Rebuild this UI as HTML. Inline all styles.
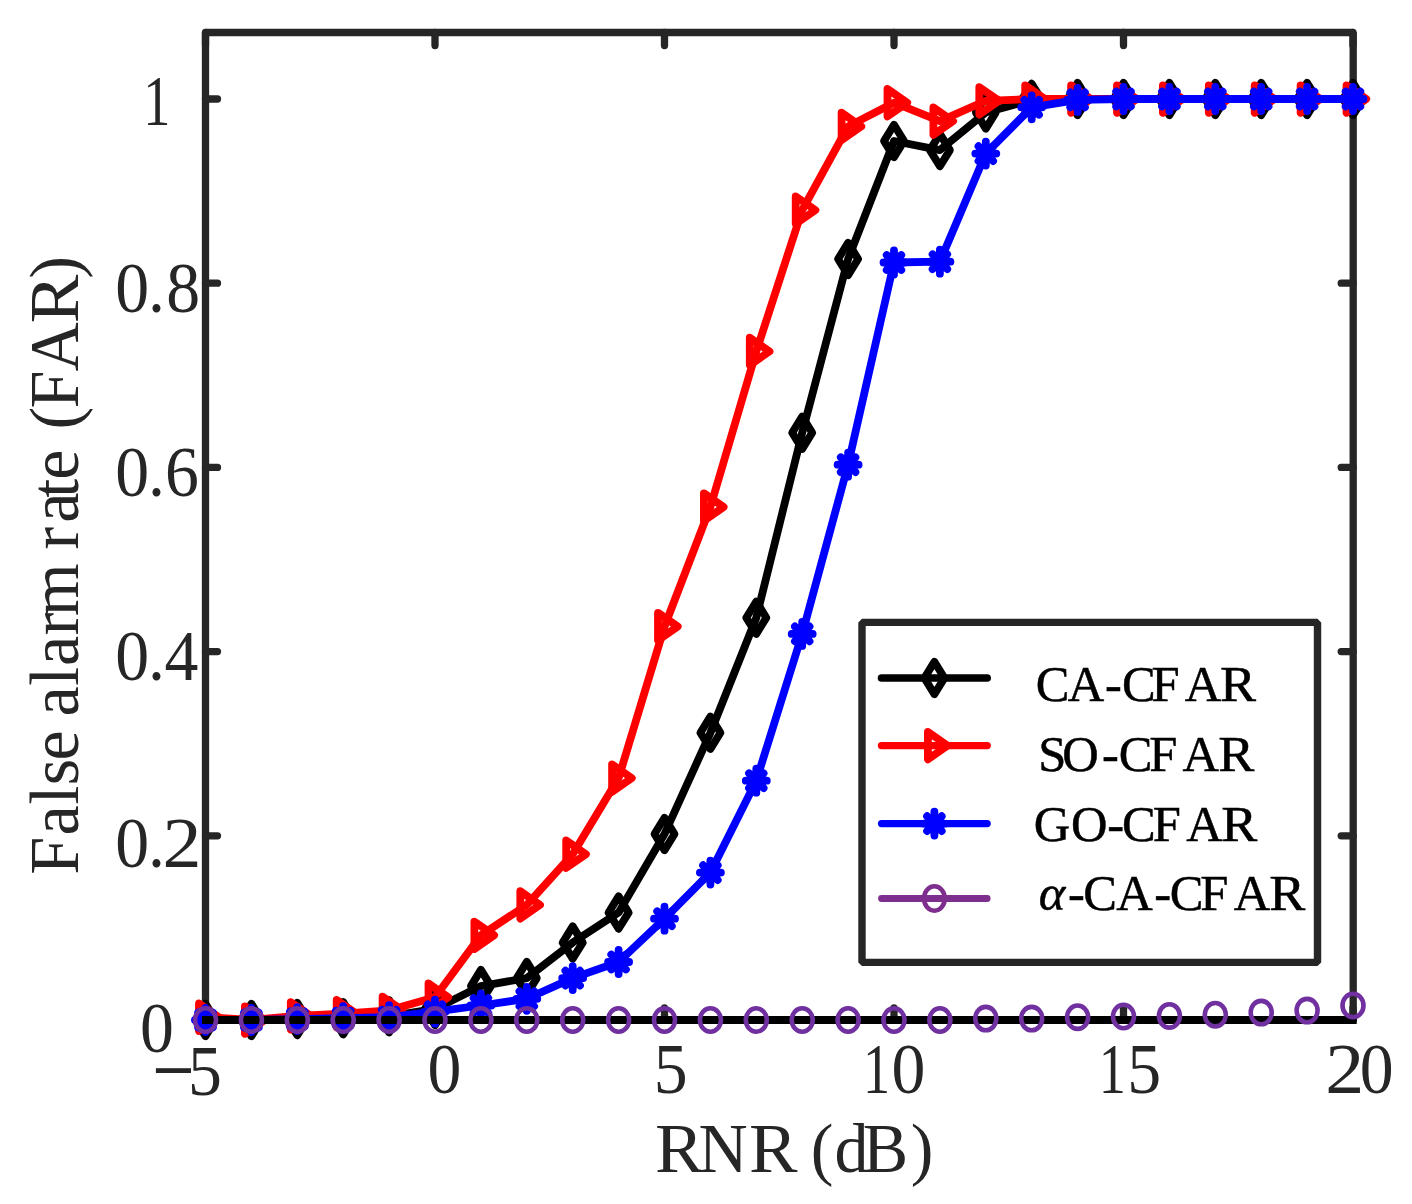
<!DOCTYPE html>
<html><head><meta charset="utf-8"><title>FAR vs RNR</title>
<style>html,body{margin:0;padding:0;background:#fff}svg{display:block}</style></head>
<body>
<svg width="1412" height="1204" viewBox="0 0 1412 1204">
<rect width="1412" height="1204" fill="#fff"/>
<g stroke="#262626" stroke-width="7.3" fill="none" stroke-linecap="round" stroke-linejoin="bevel">
<path d="M205.5 1020.0V32.5H1353.2V1020.0"/>
<path d="M205.5 1020.0h12M1353.2 1020.0h-12"/>
<path d="M205.5 835.8h12M1353.2 835.8h-12"/>
<path d="M205.5 651.6h12M1353.2 651.6h-12"/>
<path d="M205.5 467.4h12M1353.2 467.4h-12"/>
<path d="M205.5 283.2h12M1353.2 283.2h-12"/>
<path d="M205.5 99.0h12M1353.2 99.0h-12"/>
<path d="M205.5 32.5v13M205.5 1020.0v-12"/>
<path d="M435.0 32.5v13M435.0 1020.0v-12"/>
<path d="M664.5 32.5v13M664.5 1020.0v-12"/>
<path d="M894.0 32.5v13M894.0 1020.0v-12"/>
<path d="M1123.5 32.5v13M1123.5 1020.0v-12"/>
<path d="M1353.0 32.5v13M1353.0 1020.0v-12"/>
</g>
<g stroke="#000" fill="none" stroke-linejoin="round" stroke-linecap="round">
<polyline points="205.5,1020.0 251.4,1020.0 297.3,1019.1 343.2,1018.2 389.1,1016.3 435.0,1008.9 480.9,986.1 526.8,978.1 572.7,942.6 618.6,912.6 664.5,834.0 710.4,732.8 756.3,617.7 802.2,432.7 848.1,259.0 894.0,141.0 939.9,150.1 985.8,112.4 1031.7,99.9 1077.6,99.0 1123.5,99.0 1169.4,99.0 1215.3,99.0 1261.2,99.0 1307.1,99.0 1353.0,99.0" stroke-width="7.8"/>
<path d="M205.5 1003.8l10.0 16.2l-10.0 16.2l-10.0 -16.2z" stroke-width="7.8"/>
<path d="M251.4 1003.8l10.0 16.2l-10.0 16.2l-10.0 -16.2z" stroke-width="7.8"/>
<path d="M297.3 1002.9l10.0 16.2l-10.0 16.2l-10.0 -16.2z" stroke-width="7.8"/>
<path d="M343.2 1002.0l10.0 16.2l-10.0 16.2l-10.0 -16.2z" stroke-width="7.8"/>
<path d="M389.1 1000.1l10.0 16.2l-10.0 16.2l-10.0 -16.2z" stroke-width="7.8"/>
<path d="M435.0 992.7l10.0 16.2l-10.0 16.2l-10.0 -16.2z" stroke-width="7.8"/>
<path d="M480.9 969.9l10.0 16.2l-10.0 16.2l-10.0 -16.2z" stroke-width="7.8"/>
<path d="M526.8 961.9l10.0 16.2l-10.0 16.2l-10.0 -16.2z" stroke-width="7.8"/>
<path d="M572.7 926.4l10.0 16.2l-10.0 16.2l-10.0 -16.2z" stroke-width="7.8"/>
<path d="M618.6 896.4l10.0 16.2l-10.0 16.2l-10.0 -16.2z" stroke-width="7.8"/>
<path d="M664.5 817.8l10.0 16.2l-10.0 16.2l-10.0 -16.2z" stroke-width="7.8"/>
<path d="M710.4 716.6l10.0 16.2l-10.0 16.2l-10.0 -16.2z" stroke-width="7.8"/>
<path d="M756.3 601.5l10.0 16.2l-10.0 16.2l-10.0 -16.2z" stroke-width="7.8"/>
<path d="M802.2 416.5l10.0 16.2l-10.0 16.2l-10.0 -16.2z" stroke-width="7.8"/>
<path d="M848.1 242.8l10.0 16.2l-10.0 16.2l-10.0 -16.2z" stroke-width="7.8"/>
<path d="M894.0 124.8l10.0 16.2l-10.0 16.2l-10.0 -16.2z" stroke-width="7.8"/>
<path d="M939.9 133.9l10.0 16.2l-10.0 16.2l-10.0 -16.2z" stroke-width="7.8"/>
<path d="M985.8 96.2l10.0 16.2l-10.0 16.2l-10.0 -16.2z" stroke-width="7.8"/>
<path d="M1031.7 83.7l10.0 16.2l-10.0 16.2l-10.0 -16.2z" stroke-width="7.8"/>
<path d="M1077.6 82.8l10.0 16.2l-10.0 16.2l-10.0 -16.2z" stroke-width="7.8"/>
<path d="M1123.5 82.8l10.0 16.2l-10.0 16.2l-10.0 -16.2z" stroke-width="7.8"/>
<path d="M1169.4 82.8l10.0 16.2l-10.0 16.2l-10.0 -16.2z" stroke-width="7.8"/>
<path d="M1215.3 82.8l10.0 16.2l-10.0 16.2l-10.0 -16.2z" stroke-width="7.8"/>
<path d="M1261.2 82.8l10.0 16.2l-10.0 16.2l-10.0 -16.2z" stroke-width="7.8"/>
<path d="M1307.1 82.8l10.0 16.2l-10.0 16.2l-10.0 -16.2z" stroke-width="7.8"/>
<path d="M1353.0 82.8l10.0 16.2l-10.0 16.2l-10.0 -16.2z" stroke-width="7.8"/>
</g>
<g stroke="#f00" fill="none" stroke-linejoin="round" stroke-linecap="round">
<polyline points="205.5,1017.2 251.4,1020.0 297.3,1015.8 343.2,1013.6 389.1,1010.3 435.0,997.2 480.9,935.3 526.8,904.9 572.7,854.2 618.6,778.1 664.5,626.5 710.4,507.0 756.3,351.4 802.2,210.1 848.1,126.4 894.0,102.7 939.9,121.1 985.8,100.8 1031.7,99.0 1077.6,99.0 1123.5,99.0 1169.4,99.0 1215.3,99.0 1261.2,99.0 1307.1,99.0 1353.0,99.0" stroke-width="7.8"/>
<path d="M199.0 1003.5L218.7 1017.2L199.0 1030.9z" stroke-width="7.8"/>
<path d="M244.9 1006.3L264.6 1020.0L244.9 1033.7z" stroke-width="7.8"/>
<path d="M290.8 1002.1L310.5 1015.8L290.8 1029.5z" stroke-width="7.8"/>
<path d="M336.7 999.9L356.4 1013.6L336.7 1027.3z" stroke-width="7.8"/>
<path d="M382.6 996.6L402.3 1010.3L382.6 1024.0z" stroke-width="7.8"/>
<path d="M428.5 983.5L448.2 997.2L428.5 1010.9z" stroke-width="7.8"/>
<path d="M474.4 921.6L494.1 935.3L474.4 949.0z" stroke-width="7.8"/>
<path d="M520.3 891.2L540.0 904.9L520.3 918.6z" stroke-width="7.8"/>
<path d="M566.2 840.5L585.9 854.2L566.2 867.9z" stroke-width="7.8"/>
<path d="M612.1 764.4L631.8 778.1L612.1 791.8z" stroke-width="7.8"/>
<path d="M658.0 612.8L677.7 626.5L658.0 640.2z" stroke-width="7.8"/>
<path d="M703.9 493.3L723.6 507.0L703.9 520.7z" stroke-width="7.8"/>
<path d="M749.8 337.7L769.5 351.4L749.8 365.1z" stroke-width="7.8"/>
<path d="M795.7 196.4L815.4 210.1L795.7 223.8z" stroke-width="7.8"/>
<path d="M841.6 112.7L861.3 126.4L841.6 140.1z" stroke-width="7.8"/>
<path d="M887.5 89.0L907.2 102.7L887.5 116.4z" stroke-width="7.8"/>
<path d="M933.4 107.4L953.1 121.1L933.4 134.8z" stroke-width="7.8"/>
<path d="M979.3 87.1L999.0 100.8L979.3 114.5z" stroke-width="7.8"/>
<path d="M1025.2 85.3L1044.9 99.0L1025.2 112.7z" stroke-width="7.8"/>
<path d="M1071.1 85.3L1090.8 99.0L1071.1 112.7z" stroke-width="7.8"/>
<path d="M1117.0 85.3L1136.7 99.0L1117.0 112.7z" stroke-width="7.8"/>
<path d="M1162.9 85.3L1182.6 99.0L1162.9 112.7z" stroke-width="7.8"/>
<path d="M1208.8 85.3L1228.5 99.0L1208.8 112.7z" stroke-width="7.8"/>
<path d="M1254.7 85.3L1274.4 99.0L1254.7 112.7z" stroke-width="7.8"/>
<path d="M1300.6 85.3L1320.3 99.0L1300.6 112.7z" stroke-width="7.8"/>
<path d="M1346.5 85.3L1366.2 99.0L1346.5 112.7z" stroke-width="7.8"/>
</g>
<g stroke="#00f" fill="none" stroke-linejoin="round" stroke-linecap="round">
<polyline points="205.5,1020.0 251.4,1020.0 297.3,1019.1 343.2,1018.2 389.1,1017.2 435.0,1011.7 480.9,1005.5 526.8,998.8 572.7,978.1 618.6,962.0 664.5,918.7 710.4,872.6 756.3,780.7 802.2,633.9 848.1,464.7 894.0,262.5 939.9,261.7 985.8,153.6 1031.7,107.3 1077.6,99.9 1123.5,99.0 1169.4,99.0 1215.3,99.0 1261.2,99.0 1307.1,99.0 1353.0,99.0" stroke-width="7.8"/>
<path d="M205.5 1008.0V1032.0M195.0 1020.0H216.0M198.2 1012.6L212.8 1027.4M198.2 1027.4L212.8 1012.6" stroke-width="7.8"/>
<path d="M251.4 1008.0V1032.0M240.9 1020.0H261.9M244.1 1012.6L258.7 1027.4M244.1 1027.4L258.7 1012.6" stroke-width="7.8"/>
<path d="M297.3 1007.1V1031.1M286.8 1019.1H307.8M290.0 1011.7L304.6 1026.5M290.0 1026.5L304.6 1011.7" stroke-width="7.8"/>
<path d="M343.2 1006.2V1030.2M332.7 1018.2H353.7M335.9 1010.8L350.5 1025.6M335.9 1025.6L350.5 1010.8" stroke-width="7.8"/>
<path d="M389.1 1005.2V1029.2M378.6 1017.2H399.6M381.8 1009.8L396.4 1024.6M381.8 1024.6L396.4 1009.8" stroke-width="7.8"/>
<path d="M435.0 999.7V1023.7M424.5 1011.7H445.5M427.7 1004.3L442.3 1019.1M427.7 1019.1L442.3 1004.3" stroke-width="7.8"/>
<path d="M480.9 993.5V1017.5M470.4 1005.5H491.4M473.6 998.1L488.2 1012.9M473.6 1012.9L488.2 998.1" stroke-width="7.8"/>
<path d="M526.8 986.8V1010.8M516.3 998.8H537.3M519.5 991.4L534.1 1006.2M519.5 1006.2L534.1 991.4" stroke-width="7.8"/>
<path d="M572.7 966.1V990.1M562.2 978.1H583.2M565.4 970.7L580.0 985.5M565.4 985.5L580.0 970.7" stroke-width="7.8"/>
<path d="M618.6 950.0V974.0M608.1 962.0H629.1M611.3 954.6L625.9 969.4M611.3 969.4L625.9 954.6" stroke-width="7.8"/>
<path d="M664.5 906.7V930.7M654.0 918.7H675.0M657.2 911.3L671.8 926.1M657.2 926.1L671.8 911.3" stroke-width="7.8"/>
<path d="M710.4 860.6V884.6M699.9 872.6H720.9M703.1 865.2L717.7 880.0M703.1 880.0L717.7 865.2" stroke-width="7.8"/>
<path d="M756.3 768.7V792.7M745.8 780.7H766.8M749.0 773.3L763.6 788.1M749.0 788.1L763.6 773.3" stroke-width="7.8"/>
<path d="M802.2 621.9V645.9M791.7 633.9H812.7M794.9 626.5L809.5 641.3M794.9 641.3L809.5 626.5" stroke-width="7.8"/>
<path d="M848.1 452.7V476.7M837.6 464.7H858.6M840.8 457.3L855.4 472.1M840.8 472.1L855.4 457.3" stroke-width="7.8"/>
<path d="M894.0 250.5V274.5M883.5 262.5H904.5M886.7 255.1L901.3 269.9M886.7 269.9L901.3 255.1" stroke-width="7.8"/>
<path d="M939.9 249.7V273.7M929.4 261.7H950.4M932.6 254.3L947.2 269.1M932.6 269.1L947.2 254.3" stroke-width="7.8"/>
<path d="M985.8 141.6V165.6M975.3 153.6H996.3M978.5 146.2L993.1 161.0M978.5 161.0L993.1 146.2" stroke-width="7.8"/>
<path d="M1031.7 95.3V119.3M1021.2 107.3H1042.2M1024.4 99.9L1039.0 114.7M1024.4 114.7L1039.0 99.9" stroke-width="7.8"/>
<path d="M1077.6 87.9V111.9M1067.1 99.9H1088.1M1070.3 92.5L1084.9 107.3M1070.3 107.3L1084.9 92.5" stroke-width="7.8"/>
<path d="M1123.5 87.0V111.0M1113.0 99.0H1134.0M1116.2 91.6L1130.8 106.4M1116.2 106.4L1130.8 91.6" stroke-width="7.8"/>
<path d="M1169.4 87.0V111.0M1158.9 99.0H1179.9M1162.1 91.6L1176.7 106.4M1162.1 106.4L1176.7 91.6" stroke-width="7.8"/>
<path d="M1215.3 87.0V111.0M1204.8 99.0H1225.8M1208.0 91.6L1222.6 106.4M1208.0 106.4L1222.6 91.6" stroke-width="7.8"/>
<path d="M1261.2 87.0V111.0M1250.7 99.0H1271.7M1253.9 91.6L1268.5 106.4M1253.9 106.4L1268.5 91.6" stroke-width="7.8"/>
<path d="M1307.1 87.0V111.0M1296.6 99.0H1317.6M1299.8 91.6L1314.4 106.4M1299.8 106.4L1314.4 91.6" stroke-width="7.8"/>
<path d="M1353.0 87.0V111.0M1342.5 99.0H1363.5M1345.7 91.6L1360.3 106.4M1345.7 106.4L1360.3 91.6" stroke-width="7.8"/>
</g>
<path d="M202.0 1020.0H1356.7" stroke="#000" stroke-width="7.8" fill="none"/>
<g stroke="#7030A0" fill="none" stroke-width="4.6">
<ellipse cx="205.5" cy="1020.0" rx="10.5" ry="11.7"/>
<ellipse cx="251.4" cy="1020.0" rx="10.5" ry="11.7"/>
<ellipse cx="297.3" cy="1020.0" rx="10.5" ry="11.7"/>
<ellipse cx="343.2" cy="1020.0" rx="10.5" ry="11.7"/>
<ellipse cx="389.1" cy="1020.0" rx="10.5" ry="11.7"/>
<ellipse cx="435.0" cy="1020.0" rx="10.5" ry="11.7"/>
<ellipse cx="480.9" cy="1020.0" rx="10.5" ry="11.7"/>
<ellipse cx="526.8" cy="1020.0" rx="10.5" ry="11.7"/>
<ellipse cx="572.7" cy="1020.0" rx="10.5" ry="11.7"/>
<ellipse cx="618.6" cy="1020.0" rx="10.5" ry="11.7"/>
<ellipse cx="664.5" cy="1020.0" rx="10.5" ry="11.7"/>
<ellipse cx="710.4" cy="1020.0" rx="10.5" ry="11.7"/>
<ellipse cx="756.3" cy="1020.0" rx="10.5" ry="11.7"/>
<ellipse cx="802.2" cy="1020.0" rx="10.5" ry="11.7"/>
<ellipse cx="848.1" cy="1020.0" rx="10.5" ry="11.7"/>
<ellipse cx="894.0" cy="1020.0" rx="10.5" ry="11.7"/>
<ellipse cx="939.9" cy="1020.0" rx="10.5" ry="11.7"/>
<ellipse cx="985.8" cy="1018.6" rx="10.5" ry="11.7"/>
<ellipse cx="1031.7" cy="1018.6" rx="10.5" ry="11.7"/>
<ellipse cx="1077.6" cy="1017.2" rx="10.5" ry="11.7"/>
<ellipse cx="1123.5" cy="1016.5" rx="10.5" ry="11.7"/>
<ellipse cx="1169.4" cy="1015.9" rx="10.5" ry="11.7"/>
<ellipse cx="1215.3" cy="1014.7" rx="10.5" ry="11.7"/>
<ellipse cx="1261.2" cy="1012.6" rx="10.5" ry="11.7"/>
<ellipse cx="1307.1" cy="1010.6" rx="10.5" ry="11.7"/>
<ellipse cx="1353.0" cy="1005.5" rx="10.5" ry="11.7"/>
</g>
<rect x="862" y="622.4" width="455.5" height="340" fill="#fff" stroke="#262626" stroke-width="7.4" stroke-linejoin="bevel"/>
<g fill="none" stroke-linecap="round" stroke-linejoin="round">
<path d="M881.5 678.0H987.2" stroke="#000" stroke-width="7.6"/>
<path d="M934.4 661.8l10.0 16.2l-10.0 16.2l-10.0 -16.2z" stroke="#000" stroke-width="7.8"/>
<path d="M881.5 745.6H987.2" stroke="#f00" stroke-width="7.4"/>
<path d="M927.9 731.9L947.6 745.6L927.9 759.3z" stroke="#f00" stroke-width="7.8"/>
<path d="M881.5 823.6H987.2" stroke="#00f" stroke-width="7.2"/>
<path d="M934.4 811.6V835.6M923.9 823.6H944.9M927.1 816.2L941.7 831.0M927.1 831.0L941.7 816.2" stroke="#00f" stroke-width="7.8"/>
<path d="M881.5 898.5H987.2" stroke="#7E2F8E" stroke-width="6.8"/>
<ellipse cx="934.4" cy="898.5" rx="10.4" ry="12.2" stroke="#7E2F8E" stroke-width="4.6"/>
</g>
<g font-family="Liberation Serif, serif">
<text transform="translate(140.12 1052.30) scale(0.95 1)" font-size="71.4" fill="#262626">0</text>
<text transform="translate(115.22 866.90) scale(0.95 1)" font-size="71.4" fill="#262626">0</text>
<text transform="translate(148.03 866.90) scale(0.95 1)" font-size="71.4" fill="#262626">.</text>
<text transform="translate(162.47 866.90) scale(1.0924999999999998 1)" font-size="71.4" fill="#262626">2</text>
<text transform="translate(115.22 680.00) scale(0.95 1)" font-size="71.4" fill="#262626">0</text>
<text transform="translate(148.03 680.00) scale(0.95 1)" font-size="71.4" fill="#262626">.</text>
<text transform="translate(164.58 680.00) scale(0.95 1)" font-size="71.4" fill="#262626">4</text>
<text transform="translate(115.22 496.40) scale(0.95 1)" font-size="71.4" fill="#262626">0</text>
<text transform="translate(148.03 496.40) scale(0.95 1)" font-size="71.4" fill="#262626">.</text>
<text transform="translate(164.99 496.40) scale(0.95 1)" font-size="71.4" fill="#262626">6</text>
<text transform="translate(115.22 312.10) scale(0.95 1)" font-size="71.4" fill="#262626">0</text>
<text transform="translate(148.03 312.10) scale(0.95 1)" font-size="71.4" fill="#262626">.</text>
<text transform="translate(166.32 312.10) scale(0.95 1)" font-size="71.4" fill="#262626">8</text>
<text transform="translate(143.13 125.0) scale(0.76 1)" font-size="71.4" fill="#262626">1</text>
<rect x="155.9" y="1068.2" width="35.1" height="4.8" fill="#262626"/>
<text transform="translate(188.06 1095.40) scale(0.95 1)" font-size="71.4" fill="#262626">5</text>
<text transform="translate(427.62 1093.00) scale(0.95 1)" font-size="71.4" fill="#262626">0</text>
<text transform="translate(653.76 1093.00) scale(0.95 1)" font-size="71.4" fill="#262626">5</text>
<text transform="translate(863.03 1093.0) scale(0.76 1)" font-size="71.4" fill="#262626">1</text>
<text transform="translate(891.52 1093.00) scale(0.95 1)" font-size="71.4" fill="#262626">0</text>
<text transform="translate(1098.73 1093.0) scale(0.76 1)" font-size="71.4" fill="#262626">1</text>
<text transform="translate(1127.16 1093.00) scale(0.95 1)" font-size="71.4" fill="#262626">5</text>
<text transform="translate(1325.27 1093.00) scale(1.0924999999999998 1)" font-size="71.4" fill="#262626">2</text>
<text transform="translate(1359.82 1093.00) scale(0.95 1)" font-size="71.4" fill="#262626">0</text>
<text transform="translate(654.90 1171.80) scale(1.04325 1)" font-size="69.8" fill="#262626">R</text>
<text transform="translate(698.44 1171.80) scale(0.975 1)" font-size="69.8" fill="#262626">N</text>
<text transform="translate(748.90 1171.80) scale(1.04325 1)" font-size="69.8" fill="#262626">R</text>
<text transform="translate(810.81 1171.80) scale(0.975 1)" font-size="69.8" fill="#262626">(</text>
<text transform="translate(834.54 1171.80) scale(0.975 1)" font-size="69.8" fill="#262626">d</text>
<text transform="translate(862.84 1171.80) scale(0.975 1)" font-size="69.8" fill="#262626">B</text>
<text transform="translate(910.71 1171.80) scale(0.975 1)" font-size="69.8" fill="#262626">)</text>
<text transform="translate(78.00 874.76) rotate(-90) scale(0.975 1)" font-size="69.8" fill="#262626">F</text>
<text transform="translate(78.00 835.39) rotate(-90) scale(0.975 1)" font-size="69.8" fill="#262626">a</text>
<text transform="translate(78.00 804.46) rotate(-90) scale(0.975 1)" font-size="69.8" fill="#262626">l</text>
<text transform="translate(78.00 785.29) rotate(-90) scale(0.975 1)" font-size="69.8" fill="#262626">s</text>
<text transform="translate(78.00 760.56) rotate(-90) scale(0.975 1)" font-size="69.8" fill="#262626">e</text>
<text transform="translate(78.00 716.59) rotate(-90) scale(0.975 1)" font-size="69.8" fill="#262626">a</text>
<text transform="translate(78.00 685.66) rotate(-90) scale(0.975 1)" font-size="69.8" fill="#262626">l</text>
<text transform="translate(78.00 666.09) rotate(-90) scale(0.975 1)" font-size="69.8" fill="#262626">a</text>
<text transform="translate(78.00 635.16) rotate(-90) scale(0.975 1)" font-size="69.8" fill="#262626">r</text>
<text transform="translate(78.00 616.23) rotate(-90) scale(0.975 1)" font-size="69.8" fill="#262626">m</text>
<text transform="translate(78.00 549.56) rotate(-90) scale(0.975 1)" font-size="69.8" fill="#262626">r</text>
<text transform="translate(78.00 522.69) rotate(-90) scale(0.975 1)" font-size="69.8" fill="#262626">a</text>
<text transform="translate(78.00 497.66) rotate(-90) scale(0.975 1)" font-size="69.8" fill="#262626">t</text>
<text transform="translate(78.00 479.76) rotate(-90) scale(0.975 1)" font-size="69.8" fill="#262626">e</text>
<text transform="translate(78.00 429.59) rotate(-90) scale(0.975 1)" font-size="69.8" fill="#262626">(</text>
<text transform="translate(78.00 408.46) rotate(-90) scale(0.975 1)" font-size="69.8" fill="#262626">F</text>
<text transform="translate(78.00 371.56) rotate(-90) scale(0.975 1)" font-size="69.8" fill="#262626">A</text>
<text transform="translate(78.00 323.20) rotate(-90) scale(1.04325 1)" font-size="69.8" fill="#262626">R</text>
<text transform="translate(78.00 278.69) rotate(-90) scale(0.975 1)" font-size="69.8" fill="#262626">)</text>
<g stroke="#000" stroke-width="0.5">
<text transform="translate(1035.83 700.60) scale(1.0 1)" font-size="50.5" fill="#000">C</text>
<text transform="translate(1067.71 700.60) scale(1.0 1)" font-size="50.5" fill="#000">A</text>
<text transform="translate(1105.03 700.60) scale(1.0 1)" font-size="50.5" fill="#000">-</text>
<text transform="translate(1121.93 700.60) scale(1.0 1)" font-size="50.5" fill="#000">C</text>
<text transform="translate(1151.45 700.60) scale(1.0 1)" font-size="50.5" fill="#000">F</text>
<text transform="translate(1184.71 700.60) scale(1.0 1)" font-size="50.5" fill="#000">A</text>
<text transform="translate(1220.04 700.60) scale(1.07 1)" font-size="50.5" fill="#000">R</text>
</g>
<g stroke="#000" stroke-width="0.5">
<text transform="translate(1038.32 770.60) scale(1.0 1)" font-size="50.5" fill="#000">S</text>
<text transform="translate(1062.13 770.60) scale(1.0 1)" font-size="50.5" fill="#000">O</text>
<text transform="translate(1101.93 770.60) scale(1.0 1)" font-size="50.5" fill="#000">-</text>
<text transform="translate(1118.83 770.60) scale(1.0 1)" font-size="50.5" fill="#000">C</text>
<text transform="translate(1149.25 770.60) scale(1.0 1)" font-size="50.5" fill="#000">F</text>
<text transform="translate(1182.51 770.60) scale(1.0 1)" font-size="50.5" fill="#000">A</text>
<text transform="translate(1218.24 770.60) scale(1.07 1)" font-size="50.5" fill="#000">R</text>
</g>
<g stroke="#000" stroke-width="0.5">
<text transform="translate(1033.83 841.00) scale(1.0 1)" font-size="50.5" fill="#000">G</text>
<text transform="translate(1071.03 841.00) scale(1.0 1)" font-size="50.5" fill="#000">O</text>
<text transform="translate(1107.33 841.00) scale(1.0 1)" font-size="50.5" fill="#000">-</text>
<text transform="translate(1122.03 841.00) scale(1.0 1)" font-size="50.5" fill="#000">C</text>
<text transform="translate(1152.85 841.00) scale(1.0 1)" font-size="50.5" fill="#000">F</text>
<text transform="translate(1186.31 841.00) scale(1.0 1)" font-size="50.5" fill="#000">A</text>
<text transform="translate(1221.34 841.00) scale(1.07 1)" font-size="50.5" fill="#000">R</text>
</g>
<g stroke="#000" stroke-width="0.5">
<text transform="translate(1038.70 910.00) scale(1.0 1)" font-size="50.5" fill="#000" font-style="italic">α</text>
<text transform="translate(1068.03 910.00) scale(1.0 1)" font-size="50.5" fill="#000">-</text>
<text transform="translate(1083.33 910.00) scale(1.0 1)" font-size="50.5" fill="#000">C</text>
<text transform="translate(1116.21 910.00) scale(1.0 1)" font-size="50.5" fill="#000">A</text>
<text transform="translate(1154.13 910.00) scale(1.0 1)" font-size="50.5" fill="#000">-</text>
<text transform="translate(1169.83 910.00) scale(1.0 1)" font-size="50.5" fill="#000">C</text>
<text transform="translate(1200.25 910.00) scale(1.0 1)" font-size="50.5" fill="#000">F</text>
<text transform="translate(1233.71 910.00) scale(1.0 1)" font-size="50.5" fill="#000">A</text>
<text transform="translate(1269.14 910.00) scale(1.07 1)" font-size="50.5" fill="#000">R</text>
</g>
</g>
</svg>
</body></html>
